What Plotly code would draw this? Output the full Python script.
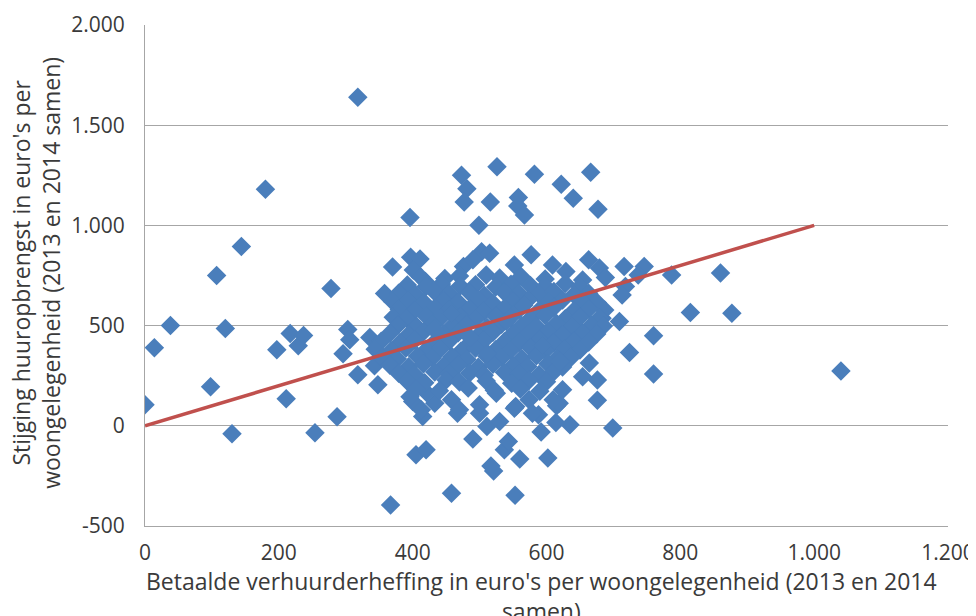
import plotly.graph_objects as go

# Betaalde verhuurderheffing (x) en stijging huuropbrengst (y), per corporatie
outlier_x = [0, 14, 38, 98, 107, 120, 130, 144, 180, 197, 211, 217, 229, 237, 254, 278, 287, 296, 303, 306,
             318, 318, 336, 343, 348, 358, 367, 396]
outlier_y = [105, 390, 500, 195, 750, 485, -40, 895, 1180, 380, 135, 460, 400, 450, -35, 685, 45, 360, 480, 430,
             255, 1640, 440, 300, 205, 660, -395, 1040]

upper_x = [473, 526, 582, 666, 622, 481, 477, 516, 558, 557, 567, 640, 677, 499, 577, 503, 515, 397, 411, 370,
           401, 419, 476, 490, 510, 552, 609, 629, 663, 679, 716, 746, 787, 718, 654, 737, 860, 713, 815, 877,
           683, 709, 760, 724, 760, 676, 676, 1040]
upper_y = [1250, 1293, 1255, 1265, 1205, 1183, 1117, 1117, 1139, 1097, 1052, 1135, 1081, 1001, 853, 869, 861, 841, 832, 792,
           778, 720, 795, 828, 753, 803, 803, 770, 828, 787, 795, 795, 753, 695, 728, 753, 762, 653, 565, 562,
           537, 520, 449, 366, 259, 229, 128, 274]

lower_x = [458, 553, 405, 420, 521, 517, 537, 543, 560, 602, 490, 699, 592, 415, 467, 511, 530, 552, 588, 614,
           635, 615, 500, 400, 433, 574, 413, 458, 500, 525, 554, 579, 619, 396, 421, 470, 610, 624, 654, 664]
lower_y = [-336, -347, -145, -120, -225, -200, -120, -78, -166, -161, -66, -11, -31, 46, 63, -3, 21, 88, 55, 16,
           5, 100, 63, 121, 113, 130, 80, 130, 105, 163, 96, 63, 113, 145, 165, 80, 130, 180, 245, 313]

cloud_x = [
    412, 448, 470, 530, 562, 598, 688,
    392, 420, 443, 471, 494, 524, 547, 576, 598, 628, 650,
    379, 404, 433, 455, 485, 507, 537, 559, 589, 611, 641, 663,
    370, 393, 417, 446, 468, 498, 520, 550, 572, 602, 624, 654, 676,
    380, 403, 433, 455, 485, 507, 537, 559, 589, 611, 641, 663, 687,
    371, 391, 420, 442, 472, 494, 524, 546, 576, 598, 628, 650, 679,
    378, 406, 429, 459, 481, 511, 533, 563, 585, 615, 637, 667, 685,
    366, 394, 416, 446, 468, 498, 520, 550, 572, 602, 624, 654, 675,
    353, 381, 403, 433, 455, 485, 507, 537, 559, 589, 611, 641, 663,
    344, 368, 390, 420, 442, 472, 494, 524, 546, 576, 598, 628, 650,
    354, 377, 407, 429, 459, 481, 511, 533, 563, 585, 615, 637,
    366, 394, 416, 446, 468, 498, 520, 550, 572, 602, 624,
    379, 403, 433, 455, 485, 507, 537, 559, 589, 611,
    392, 418, 450, 470, 510, 548, 574, 600,
    405, 440, 483, 522, 561, 590,
    432, 486, 540, 594, 458, 512, 566, 620,
]
cloud_y = [
    742, 735, 748, 738, 745, 733, 740,
    702, 695, 708, 698, 704, 692, 706, 700, 696, 710, 694,
    662, 655, 668, 658, 664, 652, 667, 660, 656, 670, 654, 662,
    620, 628, 615, 624, 618, 630, 612, 622, 626, 616, 628, 620, 614,
    582, 575, 588, 578, 584, 572, 586, 580, 576, 590, 574, 582, 578,
    542, 535, 548, 538, 544, 532, 547, 540, 536, 550, 534, 542, 538,
    502, 495, 508, 498, 504, 492, 507, 500, 496, 510, 494, 502, 498,
    462, 455, 468, 458, 464, 452, 467, 460, 456, 470, 454, 462, 458,
    422, 415, 428, 418, 424, 412, 427, 420, 416, 430, 414, 422, 418,
    382, 375, 388, 378, 384, 372, 387, 380, 376, 390, 374, 382, 378,
    342, 335, 348, 338, 344, 332, 347, 340, 336, 350, 334, 342,
    302, 295, 308, 298, 304, 292, 307, 300, 296, 310, 294,
    262, 255, 268, 258, 264, 252, 267, 260, 256, 270,
    222, 215, 228, 218, 224, 212, 227, 220,
    182, 175, 188, 178, 184, 172,
    481, 441, 521, 401, 561, 361, 601, 321,
]

trend_x = [0, 1000]
trend_y = [0, 1000]

x_ticks = [0, 200, 400, 600, 800, 1000, 1200]
x_tick_labels = ["0", "200", "400", "600", "800", "1.000", "1.200"]
y_ticks = [-500, 0, 500, 1000, 1500, 2000]
y_tick_labels = ["-500", "0", "500", "1.000", "1.500", "2.000"]

all_x = outlier_x + upper_x + lower_x + cloud_x
all_y = outlier_y + upper_y + lower_y + cloud_y

FONT = "Open Sans"
TXT = "#3a3a3a"

fig = go.Figure()
fig.add_trace(go.Scatter(
    x=all_x, y=all_y, mode="markers",
    marker=dict(symbol="diamond", size=15, color="#4A7EBB", line=dict(width=0)),
    showlegend=False, hoverinfo="x+y",
))
fig.add_trace(go.Scatter(
    x=trend_x, y=trend_y, mode="lines",
    line=dict(color="#C0504D", width=3.5),
    showlegend=False,
))

fig.update_layout(
    width=968, height=608,
    margin=dict(l=136.5, r=28, t=17, b=90, autoexpand=False),
    paper_bgcolor="white", plot_bgcolor="white",
    font=dict(family=FONT, size=21, color=TXT),
    xaxis=dict(
        range=[0, 1200], tickvals=x_ticks, ticktext=x_tick_labels,
        showgrid=False, zeroline=False, showline=True, linecolor="#A6A6A6", linewidth=1,
        ticks="", ticklabelstandoff=8, automargin=False, ticklabeloverflow="allow",
        tickfont=dict(family=FONT, size=21, color=TXT),
    ),
    yaxis=dict(
        range=[-500, 2000], tickvals=y_ticks, ticktext=y_tick_labels,
        showgrid=True, gridcolor="#A6A6A6", gridwidth=1, zeroline=False,
        showline=True, linecolor="#A6A6A6", linewidth=1,
        ticks="", ticklabelstandoff=15, automargin=False, ticklabeloverflow="allow",
        tickfont=dict(family=FONT, size=21, color=TXT),
    ),
    annotations=[
        dict(text="Stijging huuropbrengst in euro's per<br>woongelegenheid (2013 en 2014 samen)",
             xref="paper", yref="paper", x=-0.136, y=0.505, xanchor="center", yanchor="middle",
             textangle=-90, showarrow=False, font=dict(family=FONT, size=23, color=TXT)),
        dict(text="Betaalde verhuurderheffing in euro's per woongelegenheid (2013 en 2014<br>samen)",
             xref="paper", yref="paper", x=0.494, y=-0.139, xanchor="center", yanchor="middle",
             showarrow=False, font=dict(family=FONT, size=23, color=TXT)),
    ],
)

fig.write_html("out.html")
